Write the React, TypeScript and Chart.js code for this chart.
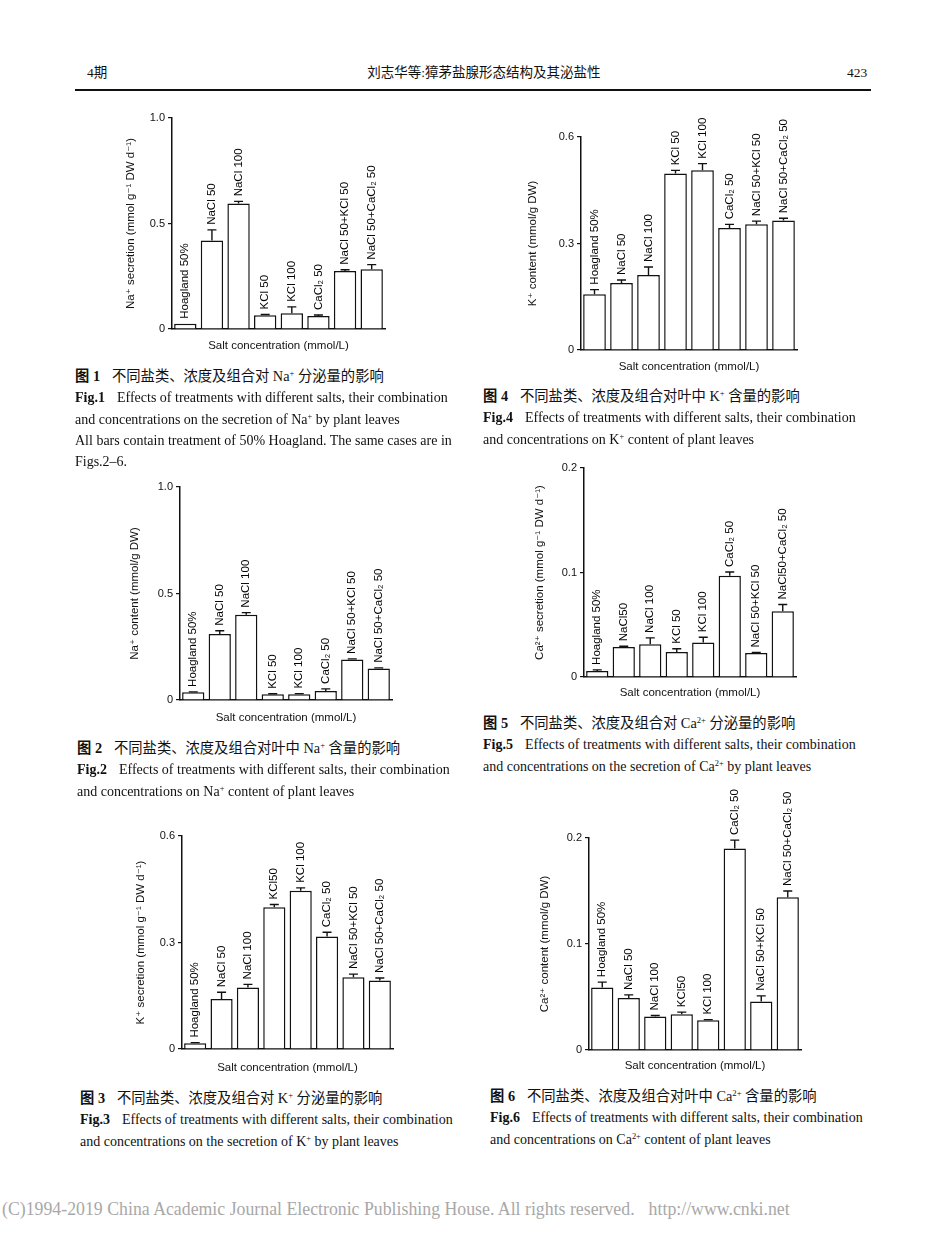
import React, { useEffect, useRef } from "react";
import { Chart, registerables } from "chart.js";

Chart.register(...registerables);

// ---------------- DATA ----------------
const fig1Labels = ["Hoagland 50%", "NaCl 50", "NaCl 100", "KCl 50", "KCl 100", "CaCl₂ 50", "NaCl 50+KCl 50", "NaCl 50+CaCl₂ 50"];
const fig1Values = [0.025, 0.42, 0.595, 0.065, 0.075, 0.062, 0.275, 0.283];
const fig1Errors = [0, 0.05, 0.01, 0.004, 0.03, 0.004, 0.006, 0.022];
const fig1Ticks = [0, 0.5, 1.0];

const fig2Labels = ["Hoagland 50%", "NaCl 50", "NaCl 100", "KCl 50", "KCl 100", "CaCl₂ 50", "NaCl 50+KCl 50", "NaCl 50+CaCl₂ 50"];
const fig2Values = [0.036, 0.31, 0.4, 0.027, 0.027, 0.042, 0.19, 0.148];
const fig2Errors = [0.002, 0.015, 0.01, 0.002, 0.003, 0.01, 0.003, 0.003];
const fig2Ticks = [0, 0.5, 1.0];

const fig3Labels = ["Hoagland 50%", "NaCl 50", "NaCl 100", "KCl50", "KCl 100", "CaCl₂ 50", "NaCl 50+KCl 50", "NaCl 50+CaCl₂ 50"];
const fig3Values = [0.016, 0.141, 0.173, 0.399, 0.446, 0.317, 0.202, 0.193];
const fig3Errors = [0.002, 0.019, 0.009, 0.008, 0.008, 0.012, 0.009, 0.007];
const fig3Ticks = [0, 0.3, 0.6];

const fig4Labels = ["Hoagland 50%", "NaCl 50", "NaCl 100", "KCl 50", "KCl 100", "CaCl₂ 50", "NaCl 50+KCl 50", "NaCl 50+CaCl₂ 50"];
const fig4Values = [0.157, 0.189, 0.211, 0.497, 0.506, 0.344, 0.354, 0.365];
const fig4Errors = [0.013, 0.008, 0.023, 0.009, 0.019, 0.01, 0.009, 0.006];
const fig4Ticks = [0, 0.3, 0.6];

const fig5Labels = ["Hoagland 50%", "NaCl50", "NaCl 100", "KCl 50", "KCl 100", "CaCl₂ 50", "NaCl 50+KCl 50", "NaCl50+CaCl₂ 50"];
const fig5Values = [0.0058, 0.0288, 0.0314, 0.024, 0.033, 0.097, 0.023, 0.063];
const fig5Errors = [0.001, 0.0006, 0.006, 0.003, 0.005, 0.0035, 0.0005, 0.0064];
const fig5Ticks = [0, 0.1, 0.2];

const fig6Labels = ["Hoagland 50%", "NaCl 50", "NaCl 100", "KCl50", "KCl 100", "CaCl₂ 50", "NaCl 50+KCl 50", "NaCl 50+CaCl₂ 50"];
const fig6Values = [0.059, 0.049, 0.0315, 0.0337, 0.028, 0.19, 0.0457, 0.144];
const fig6Errors = [0.005, 0.003, 0.001, 0.002, 0.0007, 0.008, 0.0054, 0.006];
const fig6Ticks = [0, 0.1, 0.2];

const xTitle = "Salt concentration (mmol/L)";

// ---------------- STYLE / LAYOUT ----------------
const SANS = '"Liberation Sans", Arial, "DejaVu Sans", sans-serif';
const SERIF = '"Liberation Serif", "Times New Roman", "Noto Sans CJK SC", serif';
const INK = "#111";

const errLabelPlugin = {
  id: "errLabels",
  afterDatasetsDraw(chart: any, _args: any, opts: any) {
    const { ctx } = chart;
    const meta = chart.getDatasetMeta(0);
    const ys = chart.scales.y;
    const values = chart.data.datasets[0].data as number[];
    const labels = chart.data.labels as string[];
    const errs: number[] = opts.errors || [];
    ctx.save();
    ctx.strokeStyle = INK;
    ctx.lineWidth = 1.4;
    meta.data.forEach((bar: any, i: number) => {
      const v = values[i];
      const e = errs[i] || 0;
      const x = bar.x;
      const yTop = ys.getPixelForValue(v);
      const yE = ys.getPixelForValue(v + e);
      if (e > 0) {
        ctx.beginPath();
        ctx.moveTo(x, yTop);
        ctx.lineTo(x, yE);
        ctx.moveTo(x - 4.5, yE);
        ctx.lineTo(x + 4.5, yE);
        ctx.stroke();
      }
      ctx.save();
      ctx.translate(x, Math.min(yTop, yE) - 5);
      ctx.rotate(-Math.PI / 2);
      ctx.font = `11.5px ${SANS}`;
      ctx.fillStyle = "#000";
      ctx.textAlign = "left";
      ctx.textBaseline = "middle";
      ctx.fillText(labels[i], 0, 0);
      ctx.restore();
    });
    ctx.restore();
  },
};

type Spec = {
  labels: string[];
  values: number[];
  errors: number[];
  ticks: number[];
  yTitle: string;
  plot: { l: number; t: number; r: number; b: number };
  yTitleX: number;
  xTitleY: number;
};

const PADL = 62;
const PADT = 62;
const PADR = 14;
const TITLE_SIZE = 11.5;

function BarFig({ spec }: { spec: Spec }) {
  const ref = useRef<HTMLCanvasElement>(null);
  const { plot, yTitleX, xTitleY } = spec;
  const x0 = plot.l - PADL;
  const y0 = plot.t - PADT;
  const cw = plot.r + PADR - x0;
  const ch = xTitleY + 12 - y0;
  const lh = TITLE_SIZE * 1.2;

  useEffect(() => {
    if (!ref.current) return;
    const yMax = spec.ticks[spec.ticks.length - 1];
    const step = spec.ticks[1] - spec.ticks[0];
    const chart = new Chart(ref.current, {
      type: "bar",
      data: {
        labels: spec.labels,
        datasets: [
          {
            data: spec.values,
            backgroundColor: "#fff",
            borderColor: INK,
            borderWidth: 1.5,
            barPercentage: 0.84,
            categoryPercentage: 1,
          },
        ],
      },
      options: {
        animation: false,
        responsive: false,
        maintainAspectRatio: false,
        devicePixelRatio: 1,
        layout: { padding: { left: 0, top: PADT, right: PADR, bottom: 0 } },
        plugins: {
          legend: { display: false },
          tooltip: { enabled: false },
          errLabels: { errors: spec.errors },
        } as any,
        scales: {
          x: {
            type: "category",
            offset: true,
            grid: { display: false },
            border: { display: true, color: INK, width: 1.5 },
            ticks: { display: false },
            title: {
              display: true,
              text: xTitle,
              color: INK,
              font: { family: SANS, size: TITLE_SIZE },
              padding: { top: 0, bottom: 12 - lh / 2 },
            },
            afterFit: (s: any) => {
              s.height = ch - (plot.b - y0);
            },
          },
          y: {
            min: 0,
            max: yMax,
            ticks: {
              stepSize: step,
              color: INK,
              padding: 3,
              font: { family: SANS, size: 11 },
              callback: (v: any) => (Number(v) === 0 ? "0" : Number(v).toFixed(1)),
            },
            grid: { display: true, drawOnChartArea: false, drawTicks: true, tickLength: 4, color: INK, lineWidth: 1.2 },
            border: { display: true, color: INK, width: 1.5 },
            title: {
              display: true,
              text: spec.yTitle,
              color: INK,
              font: { family: SANS, size: TITLE_SIZE },
              padding: { top: yTitleX - x0 - lh / 2, bottom: 0 },
            },
            afterFit: (s: any) => {
              s.width = PADL;
            },
          },
        },
      } as any,
      plugins: [errLabelPlugin as any],
    });
    return () => chart.destroy();
  }, []);

  return (
    <canvas
      ref={ref}
      width={cw}
      height={ch}
      style={{ position: "absolute", left: x0, top: y0, width: cw, height: ch }}
    />
  );
}

const specs: Spec[] = [
  { labels: fig1Labels, values: fig1Values, errors: fig1Errors, ticks: fig1Ticks, yTitle: "Na⁺ secretion (mmol g⁻¹ DW d⁻¹)", plot: { l: 172, t: 118, r: 385, b: 329 }, yTitleX: 131, xTitleY: 346 },
  { labels: fig2Labels, values: fig2Values, errors: fig2Errors, ticks: fig2Ticks, yTitle: "Na⁺ content (mmol/g DW)", plot: { l: 180, t: 487, r: 392, b: 700 }, yTitleX: 135, xTitleY: 718 },
  { labels: fig3Labels, values: fig3Values, errors: fig3Errors, ticks: fig3Ticks, yTitle: "K⁺ secretion (mmol g⁻¹ DW d⁻¹)", plot: { l: 182, t: 836, r: 393, b: 1049 }, yTitleX: 141, xTitleY: 1068 },
  { labels: fig4Labels, values: fig4Values, errors: fig4Errors, ticks: fig4Ticks, yTitle: "K⁺ content (mmol/g DW)", plot: { l: 581, t: 137, r: 797, b: 350 }, yTitleX: 533, xTitleY: 367 },
  { labels: fig5Labels, values: fig5Values, errors: fig5Errors, ticks: fig5Ticks, yTitle: "Ca²⁺ secretion (mmol g⁻¹ DW d⁻¹)", plot: { l: 584, t: 468, r: 796, b: 677 }, yTitleX: 540, xTitleY: 693 },
  { labels: fig6Labels, values: fig6Values, errors: fig6Errors, ticks: fig6Ticks, yTitle: "Ca²⁺ content (mmol/g DW)", plot: { l: 589, t: 838, r: 801, b: 1050 }, yTitleX: 545, xTitleY: 1066 },
];

function Line({ x, y, size = 14, children, style }: any) {
  return (
    <div
      style={{
        position: "absolute",
        left: x,
        top: y - size * 0.6,
        fontSize: size,
        lineHeight: `${size * 1.2}px`,
        whiteSpace: "nowrap",
        fontFamily: SERIF,
        color: INK,
        ...style,
      }}
    >
      {children}
    </div>
  );
}

const Sup = ({ children }: any) => (
  <sup style={{ fontSize: "0.6em", verticalAlign: "0.6em", lineHeight: 0 }}>{children}</sup>
);

const CN_SIZE = 14.3;
const EN_SIZE = 14;

function Caption({ x, y, num, cn, en1, en2, extra }: any) {
  return (
    <>
      <Line x={x} y={y} size={CN_SIZE}>
        <b>图 {num}</b>
        <span style={{ marginLeft: 12 }}>{cn}</span>
      </Line>
      <Line x={x} y={y + 21.5} size={EN_SIZE}>
        <b>Fig.{num}</b>
        <span style={{ marginLeft: 12 }}>{en1}</span>
      </Line>
      <Line x={x} y={y + 43} size={EN_SIZE}>
        {en2}
      </Line>
      {extra}
    </>
  );
}

export default function App() {
  return (
    <div
      style={{
        position: "absolute",
        left: 0,
        top: 0,
        width: 952,
        height: 1248,
        background: "#fff",
        overflow: "hidden",
      }}
    >
      {/* header */}
      <Line x={87} y={73} size={13.5}>4期</Line>
      <div
        style={{
          position: "absolute",
          left: 0,
          width: 952,
          top: 73 - 8,
          textAlign: "center",
          fontSize: 13.5,
          lineHeight: "16px",
          fontFamily: SERIF,
          color: INK,
          paddingLeft: 16,
          boxSizing: "border-box",
        }}
      >
        刘志华等:獐茅盐腺形态结构及其泌盐性
      </div>
      <Line x={847} y={73} size={13.5}>423</Line>
      <div style={{ position: "absolute", left: 75, top: 89, width: 796, height: 2, background: INK }} />

      {specs.map((s, i) => (
        <BarFig key={i} spec={s} />
      ))}

      <Caption
        x={75}
        y={377}
        num="1"
        cn={<>不同盐类、浓度及组合对 Na<Sup>+</Sup> 分泌量的影响</>}
        en1="Effects of treatments with different salts, their combination"
        en2={<>and concentrations on the secretion of Na<Sup>+</Sup> by plant leaves</>}
        extra={
          <>
            <Line x={75} y={441} size={EN_SIZE}>
              All bars contain treatment of 50% Hoagland. The same cases are in
            </Line>
            <Line x={75} y={462} size={EN_SIZE}>
              Figs.2–6.
            </Line>
          </>
        }
      />
      <Caption
        x={483}
        y={397}
        num="4"
        cn={<>不同盐类、浓度及组合对叶中 K<Sup>+</Sup> 含量的影响</>}
        en1="Effects of treatments with different salts, their combination"
        en2={<>and concentrations on K<Sup>+</Sup> content of plant leaves</>}
      />
      <Caption
        x={77}
        y={749}
        num="2"
        cn={<>不同盐类、浓度及组合对叶中 Na<Sup>+</Sup> 含量的影响</>}
        en1="Effects of treatments with different salts, their combination"
        en2={<>and concentrations on Na<Sup>+</Sup> content of plant leaves</>}
      />
      <Caption
        x={483}
        y={724}
        num="5"
        cn={<>不同盐类、浓度及组合对 Ca<Sup>2+</Sup> 分泌量的影响</>}
        en1="Effects of treatments with different salts, their combination"
        en2={<>and concentrations on the secretion of Ca<Sup>2+</Sup> by plant leaves</>}
      />
      <Caption
        x={80}
        y={1099}
        num="3"
        cn={<>不同盐类、浓度及组合对 K<Sup>+</Sup> 分泌量的影响</>}
        en1="Effects of treatments with different salts, their combination"
        en2={<>and concentrations on the secretion of K<Sup>+</Sup> by plant leaves</>}
      />
      <Caption
        x={490}
        y={1097}
        num="6"
        cn={<>不同盐类、浓度及组合对叶中 Ca<Sup>2+</Sup> 含量的影响</>}
        en1="Effects of treatments with different salts, their combination"
        en2={<>and concentrations on Ca<Sup>2+</Sup> content of plant leaves</>}
      />

      {/* footer */}
      <Line x={2} y={1210} size={17.8} style={{ color: "#a8a8a8" }}>
        (C)1994-2019 China Academic Journal Electronic Publishing House. All rights reserved.
        <span style={{ marginLeft: 14 }}>http://www.cnki.net</span>
      </Line>
    </div>
  );
}
